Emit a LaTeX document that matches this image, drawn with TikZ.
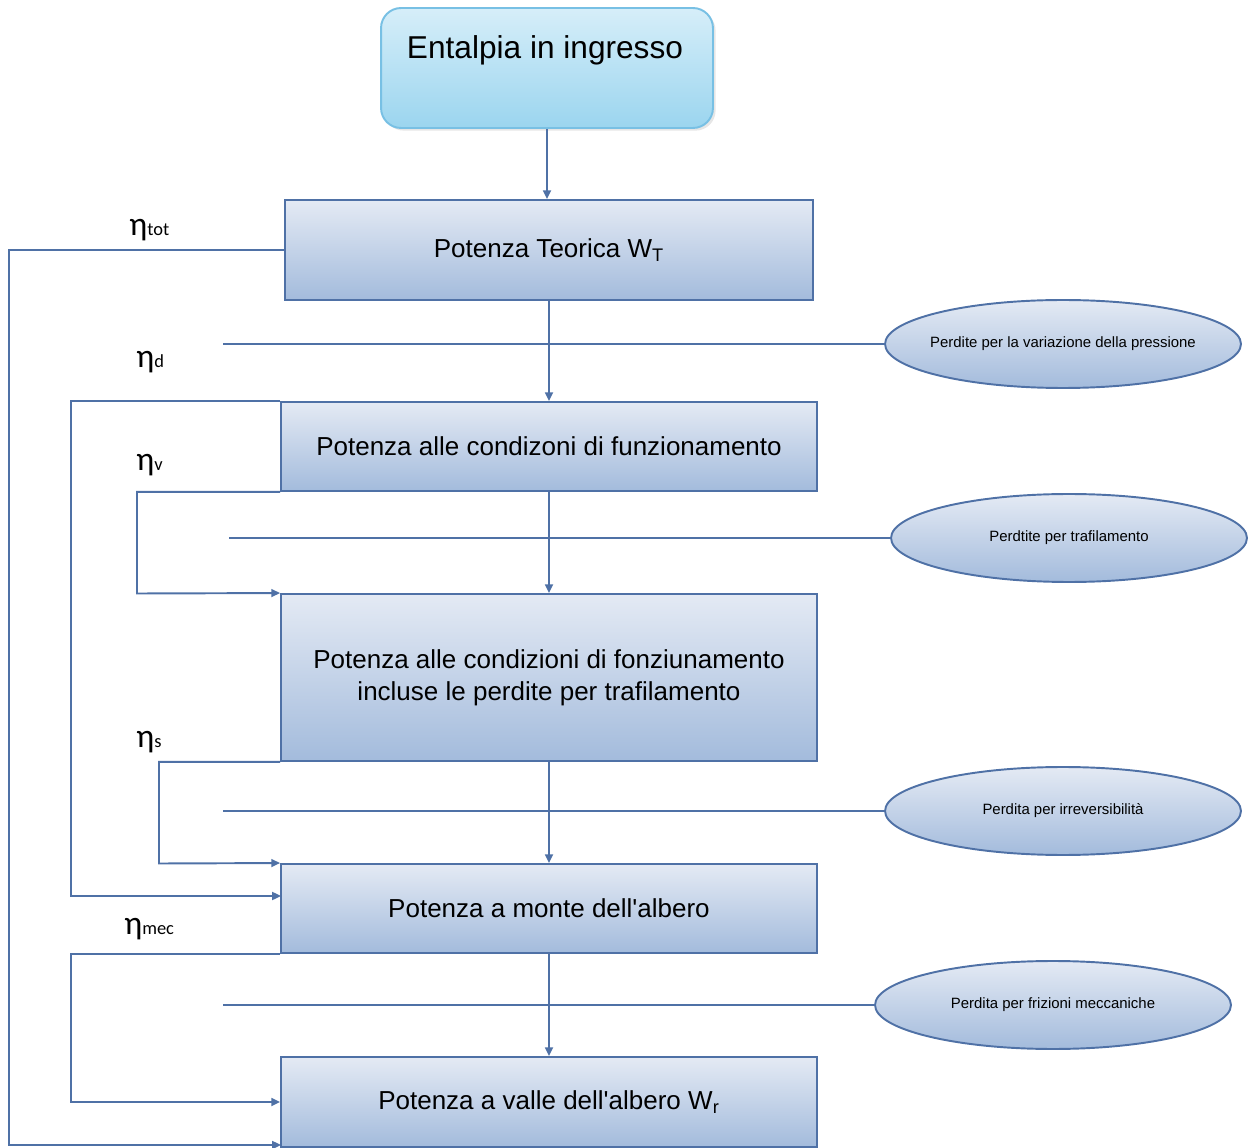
\documentclass[tikz,border=0pt]{standalone}
\usepackage{fontspec}
\setmainfont{Liberation Sans}
\newfontfamily\etafont{Carlito}
\usetikzlibrary{arrows.meta,shapes.geometric,shadows}
\definecolor{edge}{RGB}{79,113,166}
\definecolor{boxtop}{RGB}{228,234,244}
\definecolor{boxbot}{RGB}{163,187,220}
\definecolor{inlettop}{RGB}{214,238,249}
\definecolor{inletbot}{RGB}{155,213,239}
\definecolor{inletedge}{RGB}{120,192,228}
\tikzset{
  box/.style={draw=edge, line width=1.1pt, top color=boxtop, bottom color=boxbot,
    minimum width=10.72cm, minimum height=1.78cm, inner sep=0pt, align=center,
    font=\fontsize{14.8}{18}\selectfont},
  loss/.style={ellipse, draw=edge, line width=1.1pt, top color=boxtop, bottom color=boxbot,
    minimum width=7.12cm, minimum height=1.76cm, inner sep=0pt,
    font=\fontsize{8.5}{10}\selectfont},
  wire/.style={draw=edge, line width=1.1pt},
  flow/.style={wire, -{Triangle[length=5pt,width=4.5pt]}},
  eta/.style={anchor=base west, inner sep=0pt, font=\etafont},
}
\newcommand{\etalabel}[1]{{\fontsize{19}{19}\selectfont η}{\fontsize{10.5}{10.5}\selectfont #1}}
% loss text kept out of the ellipse's size computation
\newcommand{\losstext}[1]{\makebox[0pt][c]{#1}}
\begin{document}
\begin{tikzpicture}[x=0.02cm, y=-0.02cm]
\useasboundingbox (0,0) rectangle (1248,1148);

% inlet enthalpy
\node[draw=inletedge, line width=1.1pt, rounded corners=0.4cm,
      top color=inlettop, bottom color=inletbot,
      minimum width=6.64cm, minimum height=2.4cm,
      drop shadow={opacity=0.2, shadow xshift=1.5pt, shadow yshift=-1.5pt}]
      (inlet) at (547,68) {};
\node[font=\fontsize{18}{20}\selectfont] (inlettext) at (545,50) {Entalpia in ingresso};

% power stages
\node[box, minimum width=10.56cm, minimum height=2cm] (b1) at (549,250) {Potenza Teorica W\textsubscript{T}};
\node[box] (b2) at (549,446.5) {Potenza alle condizoni di funzionamento};
\node[box, minimum height=3.34cm] (b3) at (549,677.5) {Potenza alle condizioni di fonziunamento\\incluse le perdite per trafilamento};
\node[box] (b4) at (549,908.5) {Potenza a monte dell\textquotesingle albero};
\node[box, minimum height=1.8cm] (b5) at (549,1102) {Potenza a valle dell\textquotesingle albero W\textsubscript{r}};

% losses
\node[loss] (l1) at (1063,344) {\losstext{Perdite per la variazione della pressione}};
\node[loss] (l2) at (1069,538) {\losstext{Perdtite per trafilamento}};
\node[loss] (l3) at (1063,811) {\losstext{Perdita per irreversibilità}};
\node[loss] (l4) at (1053,1005) {\losstext{Perdita per frizioni meccaniche}};

% main chain
\draw[flow] (inlet.south) -- (inlet.south |- b1.north);
\draw[flow] (b1.south) -- (b2.north);
\draw[flow] (b2.south) -- (b3.north);
\draw[flow] (b3.south) -- (b4.north);
\draw[flow] (b4.south) -- (b5.north);

% loss feeds
\coordinate (f1) at (223,344);
\coordinate (f2) at (229,538);
\coordinate (f3) at (223,811);
\coordinate (f4) at (223,1005);
\draw[wire] (f1) -- (l1.west);
\draw[wire] (f2) -- (l2.west);
\draw[wire] (f3) -- (l3.west);
\draw[wire] (f4) -- (l4.west);

% efficiency bypasses
\coordinate (ctot) at (9,1145);
\coordinate (in5tot) at (281,1145);
\draw[flow] (b1.west) -| (ctot) -- (in5tot);

\coordinate (cd) at (71,896);
\coordinate (in4d) at (281,896);
\draw[flow] (b2.north west) -| (cd) -- (in4d);

\coordinate (cv) at (137,593.5);
\draw[flow] (b2.south west) -| (cv) -- (b3.north west);

\coordinate (cs) at (159,863.5);
\draw[flow] (b3.south west) -| (cs) -- (b4.north west);

\coordinate (cmec) at (71,1102);
\draw[flow] (b4.south west) -| (cmec) -- (b5.west);

% efficiency labels
\node[eta] (etatot) at (129,236) {\etalabel{tot}};
\node[eta] (etad) at (136,368) {\etalabel{d}};
\node[eta] (etav) at (136,471) {\etalabel{v}};
\node[eta] (etas) at (136,747) {\etalabel{s}};
\node[eta] (etamec) at (124,934) {\etalabel{mec}};
\end{tikzpicture}
\end{document}
